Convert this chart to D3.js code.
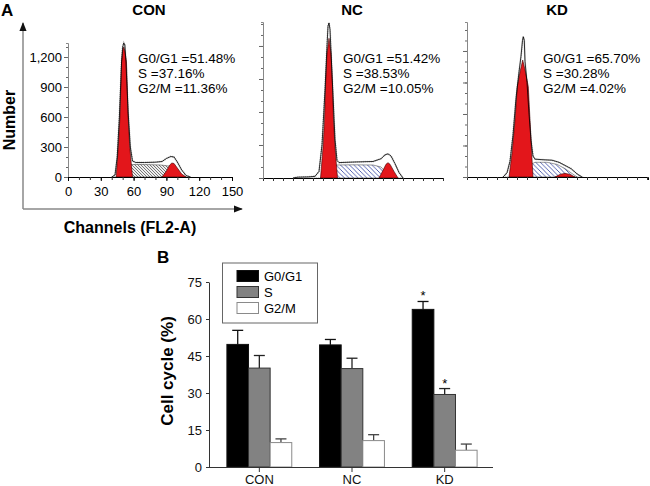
<!DOCTYPE html>
<html lang="en">
<head>
<meta charset="UTF-8">
<script src="https://d3js.org/d3.v7.min.js"></script>
<title>Cell cycle</title>
<style>
  body { margin: 0; background: #fff; }
  svg { display: block; font-family: "Liberation Sans", Arial, sans-serif; }
</style>
</head>
<body>
<div id="container"></div>
<script>
// ---- panel A: histograms, [channel, count] ----
const conTotal = [[40,0],[43,20],[45,200],[47,600],[49,1150],[50,1300],[51,1340],[52,1320],[53,1150],[55,650],[57,300],[59,160],[62,145],[70,145],[80,148],[86,155],[90,185],[94,205],[97,200],[100,150],[104,70],[108,15],[112,0]];
const conG1 = [[44,0],[46,300],[47.5,600],[49,1150],[50,1260],[51,1300],[52,1260],[53.5,1150],[55,600],[56.5,300],[59,0]];
const conS = [[51,0],[54,100],[58,125],[70,125],[85,120],[92,110],[96,70],[100,20],[102,0]];
const conG2 = [[86,0],[90,60],[93,120],[95,140],[97,135],[100,90],[104,30],[108,0]];

const ncTotal = [[30,0],[35,8],[45,10],[52,15],[56,60],[59,300],[62,800],[64,1200],[65,1380],[66,1410],[67,1350],[68,1150],[70,750],[72,350],[74,160],[76,140],[90,145],[110,150],[118,175],[122,210],[125,220],[128,200],[132,130],[136,50],[140,0]];
const ncG1 = [[57.5,0],[60,280],[61.5,530],[62.5,830],[64,1136],[66,1270],[68,1136],[69.5,830],[70.5,530],[72,280],[74.5,0]];
const ncS = [[64,0],[68,90],[72,118],[90,120],[110,118],[118,100],[123,50],[128,0]];
const ncG2 = [[116,0],[120,70],[123,125],[125,139],[127,125],[131,60],[135,0]];

const kdTotal = [[36,0],[40,40],[43,150],[46,400],[49,750],[52,1000],[54,1150],[55.5,1300],[56.3,1336],[57.3,1300],[58,1100],[60,900],[62,600],[64,350],[66,200],[68,170],[75,165],[85,160],[92,140],[98,110],[104,80],[110,30],[115,0]];
const kdG1 = [[42,0],[45,225],[48,543],[50.3,860],[53,1000],[55.7,1114],[58.5,1000],[61.3,860],[63,543],[64.7,225],[66,0]];
const kdS = [[50,0],[56,60],[62,110],[68,140],[80,140],[90,120],[98,80],[104,40],[110,0]];
const kdG2 = [[88,0],[93,25],[98,35],[103,25],[108,0]];

const phases = ["G0/G1", "S", "G2/M"];
const conPct = [51.48, 37.16, 11.36];
const ncPct = [51.42, 38.53, 10.05];
const kdPct = [65.70, 30.28, 4.02];
const countTicks = [0, 300, 600, 900, 1200];
const channelTicks = [0, 30, 60, 90, 120, 150];

// ---- panel B: bar chart ----
const groups = ["CON", "NC", "KD"];
const g1Mean = [49.7, 49.5, 63.9];
const g1Err = [5.7, 2.2, 3.2];
const sMean = [40.1, 39.9, 29.4];
const sErr = [5.1, 4.2, 2.4];
const g2Mean = [9.9, 10.7, 6.8];
const g2Err = [1.5, 2.4, 2.5];
const g1Sig = [false, false, true];
const sSig = [false, false, true];
const g2Sig = [false, false, false];
const percentTicks = [0, 15, 30, 45, 60, 75];

const width = 650, height = 486;

const svg = d3.select('#container').append('svg')
  .attr('width', width).attr('height', height)
  .attr('viewBox', [0, 0, width, height]);

const defs = svg.append('defs');
const gray = defs.append('pattern').attr('id', 'hatchGray')
  .attr('patternUnits', 'userSpaceOnUse').attr('width', 3).attr('height', 3);
gray.append('rect').attr('width', 3).attr('height', 3).attr('fill', '#eee');
gray.append('path').attr('d', 'M0,0L3,3M-1,2L1,4M2,-1L4,1')
  .attr('stroke', '#444').attr('stroke-width', 0.7);
const blue = defs.append('pattern').attr('id', 'hatchBlue')
  .attr('patternUnits', 'userSpaceOnUse').attr('width', 4.5).attr('height', 4.5);
blue.append('rect').attr('width', 4.5).attr('height', 4.5).attr('fill', '#fff');
blue.append('path').attr('d', 'M0,0L4.5,4.5M-1,3.5L1,5.5M3.5,-1L5.5,1')
  .attr('stroke', '#2b3c9e').attr('stroke-width', 0.8);
defs.append('marker').attr('id', 'arrow')
  .attr('viewBox', '0 0 10 10').attr('refX', 9).attr('refY', 5)
  .attr('markerWidth', 6).attr('markerHeight', 6).attr('orient', 'auto')
  .append('path').attr('d', 'M0,1L10,5L0,9Z').attr('fill', '#111');

// panel letters
svg.append('text').attr('x', 1).attr('y', 16).text('A')
  .style('font-size', '17px').style('font-weight', 'bold');
svg.append('text').attr('x', 157).attr('y', 263).text('B')
  .style('font-size', '17px').style('font-weight', 'bold');

const panels = [
  {name: 'CON', left: 68, right: 232, top: 43, base: 177, xMax: 150, yMax: 1340, titleX: 149, textX: 138,
   labels: true, hatch: 'hatchGray', total: conTotal, g1: conG1, s: conS, g2: conG2, pct: conPct},
  {name: 'NC', left: 263, right: 443, top: 22, base: 178, xMax: 180, yMax: 1418, titleX: 352, textX: 343,
   labels: false, hatch: 'hatchBlue', total: ncTotal, g1: ncG1, s: ncS, g2: ncG2, pct: ncPct},
  {name: 'KD', left: 467, right: 648, top: 22, base: 177, xMax: 181, yMax: 1476, titleX: 557, textX: 543,
   labels: false, hatch: 'hatchBlue', total: kdTotal, g1: kdG1, s: kdS, g2: kdG2, pct: kdPct}
];

panels.forEach(function(p) {
  const x = d3.scaleLinear().domain([0, p.xMax]).range([p.left, p.right]);
  const y = d3.scaleLinear().domain([0, p.yMax]).range([p.base, p.top]);
  const area = d3.area().x(d => x(d[0])).y0(y(0)).y1(d => y(d[1]));
  const line = d3.line().x(d => x(d[0])).y(d => y(d[1]));
  const g = svg.append('g');

  g.append('text').attr('x', p.titleX).attr('y', 15).attr('text-anchor', 'middle')
    .text(p.name).style('font-size', '15px').style('font-weight', 'bold');

  // data envelope
  g.append('path').datum(p.total).attr('d', area)
    .attr('fill', '#fff').attr('stroke', '#b5b5b5').attr('stroke-width', 1.8)
    .attr('stroke-dasharray', '1,1');
  g.append('path').datum(p.s).attr('d', area)
    .attr('fill', 'url(#' + p.hatch + ')').attr('stroke', '#333').attr('stroke-width', 0.5);
  [p.g1, p.g2].forEach(function(d) {
    g.append('path').datum(d).attr('d', area)
      .attr('fill', '#e3161b').attr('stroke', '#3a0000').attr('stroke-width', 0.6);
  });
  g.append('path').datum(p.total).attr('d', line)
    .attr('fill', 'none').attr('stroke', '#000').attr('stroke-width', 0.8);

  // axes
  const minorX = d3.range(0, p.xMax + 0.1, 10);
  const minorY = d3.range(0, p.yMax, 100);
  g.append('g').attr('transform', `translate(0,${p.base})`)
    .call(d3.axisBottom(x).tickValues(minorX).tickSize(3).tickFormat(''))
    .call(a => a.select('.domain').attr('stroke', '#000'))
    .call(a => a.selectAll('.tick line').attr('stroke', '#333'));
  g.append('g').attr('transform', `translate(${p.left},0)`)
    .call(d3.axisLeft(y).tickValues(minorY).tickSize(2).tickFormat(''))
    .call(a => a.select('.domain').attr('stroke', '#888'))
    .call(a => a.selectAll('.tick line').attr('stroke', '#666'));
  if (p.labels) {
    g.append('g').attr('transform', `translate(0,${p.base})`)
      .call(d3.axisBottom(x).tickValues(channelTicks).tickSize(4).tickPadding(6))
      .call(a => a.select('.domain').remove())
      .call(a => a.selectAll('text').style('font-size', '13px').attr('fill', '#000'));
    g.append('g').attr('transform', `translate(${p.left},0)`)
      .call(d3.axisLeft(y).tickValues(countTicks).tickSize(4).tickPadding(2).tickFormat(d3.format(',')))
      .call(a => a.select('.domain').remove())
      .call(a => a.selectAll('.tick line').attr('stroke', '#666'))
      .call(a => a.selectAll('text').style('font-size', '13px').attr('fill', '#000'));
  } else {
    g.append('g').attr('transform', `translate(${p.left},0)`)
      .call(d3.axisLeft(y).tickValues(countTicks).tickSize(4).tickFormat(''))
      .call(a => a.select('.domain').remove())
      .call(a => a.selectAll('.tick line').attr('stroke', '#666'));
  }

  g.append('g').selectAll('text').data(phases).join('text')
    .attr('x', p.textX).attr('y', (d, i) => 63 + i * 15)
    .text((d, i) => d + ' =' + p.pct[i].toFixed(2) + '%')
    .style('font-size', '13.5px');
});

// outer axes of CON
svg.append('line').attr('x1', 23).attr('y1', 209).attr('x2', 23).attr('y2', 23)
  .attr('stroke', '#888').attr('stroke-width', 1.5).attr('marker-end', 'url(#arrow)');
svg.append('line').attr('x1', 23).attr('y1', 209).attr('x2', 242).attr('y2', 209)
  .attr('stroke', '#888').attr('stroke-width', 1.5).attr('marker-end', 'url(#arrow)');
svg.append('text').attr('transform', 'translate(15,120) rotate(-90)')
  .attr('text-anchor', 'middle').text('Number')
  .style('font-size', '16px').style('font-weight', 'bold');
svg.append('text').attr('x', 130).attr('y', 233).attr('text-anchor', 'middle')
  .text('Channels (FL2-A)').style('font-size', '16px').style('font-weight', 'bold');

// ---- panel B ----
const bar = {left: 209, right: 493, top: 282, base: 467};
const x0 = d3.scaleBand().domain(groups).range([213, 491]).paddingInner(0.3).paddingOuter(0.15);
const x1 = d3.scaleBand().domain(phases).range([0, x0.bandwidth()]);
const yB = d3.scaleLinear().domain([0, 75]).range([bar.base, bar.top]);

const series = [
  {phase: 'G0/G1', mean: g1Mean, err: g1Err, sig: g1Sig, fill: '#000', stroke: '#111', errColor: '#111'},
  {phase: 'S', mean: sMean, err: sErr, sig: sSig, fill: '#828282', stroke: '#333', errColor: '#222'},
  {phase: 'G2/M', mean: g2Mean, err: g2Err, sig: g2Sig, fill: '#fff', stroke: '#8a8a8a', errColor: '#444'}
];

const barG = svg.append('g');
series.forEach(function(s) {
  const rows = groups.map((grp, i) => ({grp: grp, v: s.mean[i], e: s.err[i], sig: s.sig[i]}));
  const bx = d => x0(d.grp) + x1(s.phase);
  const cx = d => bx(d) + x1.bandwidth() / 2;
  barG.append('g').selectAll('line').data(rows).join('line')
    .attr('x1', cx).attr('x2', cx)
    .attr('y1', d => yB(d.v)).attr('y2', d => yB(d.v + d.e))
    .attr('stroke', s.errColor).attr('stroke-width', 1.3);
  barG.append('g').selectAll('line').data(rows).join('line')
    .attr('x1', d => cx(d) - 5.5).attr('x2', d => cx(d) + 5.5)
    .attr('y1', d => yB(d.v + d.e)).attr('y2', d => yB(d.v + d.e))
    .attr('stroke', s.errColor).attr('stroke-width', 1.3);
  barG.append('g').selectAll('rect').data(rows).join('rect')
    .attr('x', bx).attr('width', x1.bandwidth())
    .attr('y', d => yB(d.v)).attr('height', d => yB(0) - yB(d.v))
    .attr('fill', s.fill).attr('stroke', s.stroke).attr('stroke-width', 1);
  barG.append('g').selectAll('text').data(rows.filter(d => d.sig)).join('text')
    .attr('x', cx).attr('y', d => yB(d.v + d.e) - 1).attr('text-anchor', 'middle')
    .text('*').style('font-size', '13px');
});

svg.append('g').attr('transform', `translate(${bar.left},0)`)
  .call(d3.axisLeft(yB).tickValues(percentTicks).tickSize(3).tickPadding(4).tickSizeOuter(0))
  .call(a => a.select('.domain').attr('stroke', '#333'))
  .call(a => a.selectAll('.tick line').attr('stroke', '#333'))
  .call(a => a.selectAll('text').style('font-size', '13px').attr('fill', '#111'));
svg.append('g').attr('transform', `translate(0,${bar.base})`)
  .call(d3.axisBottom(x0).tickSize(5).tickPadding(3).tickSizeOuter(0))
  .call(a => a.select('.domain').attr('d', `M${bar.left},0.5H${bar.right}`).attr('stroke', '#333'))
  .call(a => a.selectAll('.tick line').attr('stroke', '#333'))
  .call(a => a.selectAll('text').style('font-size', '13px').attr('fill', '#111'));

svg.append('text').attr('transform', 'translate(173,371) rotate(-90)')
  .attr('text-anchor', 'middle').text('Cell cycle (%)')
  .style('font-size', '17px').style('font-weight', 'bold');

// legend
const legend = svg.append('g');
legend.append('rect').attr('x', 222.5).attr('y', 263).attr('width', 95).attr('height', 60)
  .attr('fill', '#fff').attr('stroke', '#666').attr('stroke-width', 1);
const item = legend.selectAll('g').data(series).join('g')
  .attr('transform', (d, i) => `translate(237,${276 + i * 16})`);
item.append('rect').attr('x', 0).attr('y', -5.5).attr('width', 21.5).attr('height', 11)
  .attr('fill', d => d.fill).attr('stroke', d => d.stroke);
item.append('text').attr('x', 27).attr('dy', '0.36em').text(d => d.phase)
  .style('font-size', '13px');
</script>
</body>
</html>
